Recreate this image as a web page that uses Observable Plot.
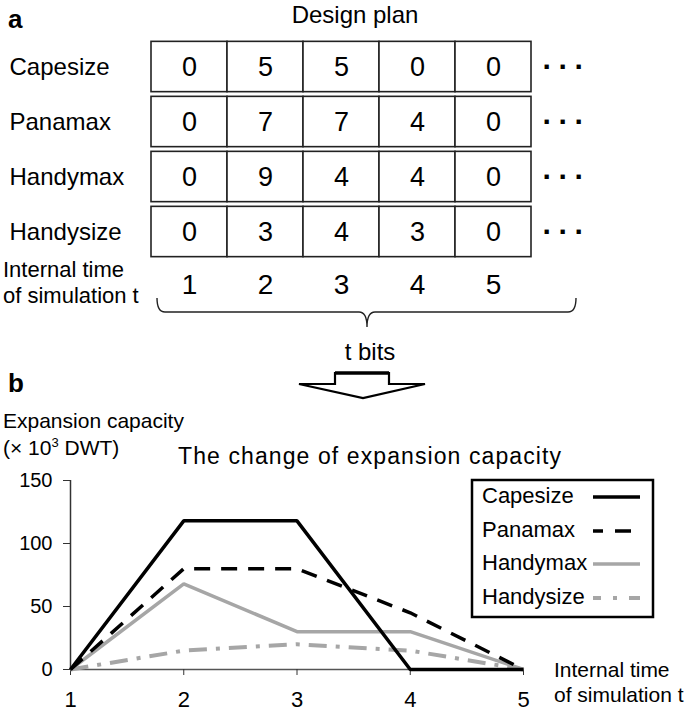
<!DOCTYPE html>
<html><head><meta charset="utf-8">
<script src="https://cdn.jsdelivr.net/npm/d3@7"></script>
<script src="https://cdn.jsdelivr.net/npm/@observablehq/plot@0.6"></script>
<style>
body{margin:0;background:#fff;}
#wrap{position:relative;width:685px;height:723px;font-family:"Liberation Sans",Arial,sans-serif;color:#000;overflow:hidden;}
#wrap > svg{position:absolute;left:0;}
</style></head><body><div id="wrap"></div>
<script>
// ---------- data ----------
const ships = ["Capesize", "Panamax", "Handymax", "Handysize"];
const times = [1, 2, 3, 4, 5];
// design plan (panel a)
const planCapesize  = [0, 5, 5, 0, 0];
const planPanamax   = [0, 7, 7, 4, 0];
const planHandymax  = [0, 9, 4, 4, 0];
const planHandysize = [0, 3, 4, 3, 0];
// expansion capacity, x10^3 DWT (panel b)
const capCapesize  = [0, 118, 118, 0, 0];
const capPanamax   = [0, 80, 80, 45, 0];
const capHandymax  = [0, 68, 30, 30, 0];
const capHandysize = [0, 15, 20, 15, 0];
const yTicks = [0, 50, 100, 150];

const FONT = '"Liberation Sans", Arial, sans-serif';
const wrap = document.getElementById("wrap");

// ---------- panel a: design plan table ----------
const plans = [planCapesize, planPanamax, planHandymax, planHandysize];
const cells = ships.flatMap((s, i) => times.map((t, j) => ({ship: s, t, v: plans[i][j]})));

const topPlot = Plot.plot({
  width: 685, height: 400,
  marginLeft: 151, marginRight: 154, marginTop: 37.65, marginBottom: 83.85,
  x: {domain: [0.5, 5.5], axis: null},
  y: {type: "band", domain: [...ships, "t"], padding: 0, axis: null},
  style: {fontFamily: FONT, background: "transparent", color: "#000", overflow: "visible"},
  marks: [
    Plot.barX(cells, {x1: d => d.t - 0.5, x2: d => d.t + 0.5, y: "ship", fill: "white",
      stroke: "#222", strokeWidth: 1.6, insetTop: 2.35, insetBottom: 2.35}),
    Plot.text(cells, {x: "t", y: "ship", text: d => String(d.v), fontSize: 27, fill: "#000"}),
    Plot.text(ships, {y: d => d, text: d => d, frameAnchor: "left", textAnchor: "start",
      dx: -142, fontSize: 24, fill: "#000"}),
    Plot.text(ships, {y: d => d, x: () => 6, text: () => "···", fontSize: 30,
      fontWeight: "bold", dx: -3, fill: "#000"}),
    Plot.text(times, {x: d => d, y: () => "t", text: d => String(d), fontSize: 28, dy: -2, fill: "#000"})
  ]
});
topPlot.style.top = "0px";
wrap.appendChild(topPlot);
d3.select(topPlot).selectAll("text").filter(function() { return this.textContent === "···"; })
  .attr("letter-spacing", 6);

// ---------- panel b: line chart ----------
const seriesValues = [capCapesize, capPanamax, capHandymax, capHandysize];
const seriesStyle = {
  Capesize:  {stroke: "#000",    dash: null,         width: 3.5},
  Panamax:   {stroke: "#000",    dash: "16,11",      width: 3.5},
  Handymax:  {stroke: "#a6a6a6", dash: null,         width: 3.5},
  Handysize: {stroke: "#a6a6a6", dash: "18,9,4,9",   width: 4}
};
const rows = ships.map((s, i) => times.map((t, j) => ({ship: s, t, v: seriesValues[i][j]})));
const drawOrder = [3, 2, 1, 0];

const botPlot = Plot.plot({
  width: 685, height: 323,
  marginLeft: 70, marginRight: 162, marginTop: 80, marginBottom: 54,
  x: {domain: [1, 5], axis: null},
  y: {domain: [0, 150], axis: null},
  style: {fontFamily: FONT, background: "transparent", color: "#000", overflow: "visible"},
  marks: [
    Plot.ruleY([0], {stroke: "#555", strokeWidth: 1.5}),
    Plot.ruleX([1], {stroke: "#333", strokeWidth: 1.5}),
    Plot.axisY({ticks: yTicks, tickSize: 7, tickPadding: 11, fontSize: 20, stroke: "#333", label: null, tickFormat: d => String(d)}),
    Plot.axisX({ticks: times, tickSize: 6, tickPadding: 16, fontSize: 22, stroke: "#333", label: null, tickFormat: d => String(d)}),
    ...drawOrder.map(i => {
      const st = seriesStyle[ships[i]];
      return Plot.line(rows[i], {x: "t", y: "v", stroke: st.stroke, strokeWidth: st.width,
        strokeDasharray: st.dash, strokeLinejoin: "miter", strokeLinecap: "butt"});
    })
  ]
});
botPlot.style.top = "400px";
wrap.appendChild(botPlot);

// ---------- annotations overlay ----------
const svg = d3.select(wrap).append("svg")
  .attr("width", 685).attr("height", 723)
  .style("top", "0px").style("pointer-events", "none")
  .style("font-family", FONT);

function txt(x, y, s, size, opts = {}) {
  const t = svg.append("text").attr("x", x).attr("y", y).attr("font-size", size)
    .attr("fill", "#000").text(s);
  if (opts.anchor) t.attr("text-anchor", opts.anchor);
  if (opts.weight) t.attr("font-weight", opts.weight);
  if (opts.len) t.attr("textLength", opts.len).attr("lengthAdjust", "spacing");
  return t;
}
txt(8, 28, "a", 26, {weight: "bold"});
txt(355, 23, "Design plan", 24, {anchor: "middle"});
txt(3, 277, "Internal time", 22);
txt(3, 303, "of simulation t", 22);

// brace
svg.append("path")
  .attr("d", "M157,298 Q157,312 165,312 L359,312 Q367,312 367,327 Q367,312 375,312 L568,312 Q576,312 576,298")
  .attr("fill", "none").attr("stroke", "#222").attr("stroke-width", 1.4);
txt(370, 360, "t bits", 24, {anchor: "middle"});
// block arrow
svg.append("path")
  .attr("d", "M335,384 L335,373 L389,373 L389,384 L425,384 L363,398 L299,384 Z")
  .attr("fill", "white").attr("stroke", "#000").attr("stroke-width", 2.2).attr("stroke-linejoin", "miter");
svg.append("line").attr("x1", 335).attr("x2", 389).attr("y1", 373).attr("y2", 373)
  .attr("stroke", "#000").attr("stroke-width", 3.5);

txt(8, 392, "b", 26, {weight: "bold"});
txt(3, 428, "Expansion capacity", 21);
const u = txt(3, 455, "(× 10", 21);
u.append("tspan").attr("font-size", 13).attr("dy", -8).text("3");
u.append("tspan").attr("dy", 8).text(" DWT)");
txt(178, 464, "The change of expansion capacity", 23, {len: 383});
txt(554, 677, "Internal time", 21);
txt(554, 702, "of simulation  t", 21);

// legend
svg.append("rect").attr("x", 472).attr("y", 480).attr("width", 181).attr("height", 137)
  .attr("fill", "white").attr("stroke", "#000").attr("stroke-width", 2.5);
const legY = [503, 537, 570, 604];
ships.forEach((s, i) => {
  const st = seriesStyle[s];
  txt(482, legY[i], s, 22);
  svg.append("line").attr("x1", 593).attr("x2", 640).attr("y1", legY[i] - 6).attr("y2", legY[i] - 6)
    .attr("stroke", st.stroke).attr("stroke-width", st.width)
    .attr("stroke-dasharray", st.dash ? (i === 1 ? "10,12,16,20" : "8,12,4,12,16") : null);
});
</script></body></html>
